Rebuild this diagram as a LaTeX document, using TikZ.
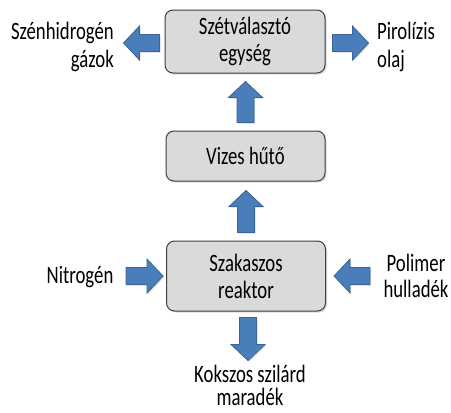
\documentclass[tikz,border=0pt]{standalone}
\usepackage{fontspec}
\setmainfont{Carlito}[FakeStretch=0.75]
\usetikzlibrary{shadows,calc}
\definecolor{boxfill}{HTML}{DADADA}
\definecolor{boxline}{HTML}{3F3F3F}
\definecolor{arrfill}{HTML}{4A7EBB}
\definecolor{arrline}{HTML}{3A6596}
\tikzset{
  unitbox/.style={draw=boxline, line width=1pt, fill=boxfill, rounded corners=8pt,
    align=center, inner sep=0pt, font=\fontsize{25}{27}\selectfont,
    drop shadow={shadow xshift=1.5pt, shadow yshift=-1.5pt, opacity=0.3}},
  lbl/.style={inner sep=0pt, font=\fontsize{25}{28}\selectfont},
  arrstyle/.style={draw=arrline, line width=0.8pt, fill=arrfill,
    drop shadow={shadow xshift=1.2pt, shadow yshift=-1.2pt, opacity=0.3}},
  pics/barrow/.style={code={
    \path[arrstyle] (0,-8.5) -- ({#1-16},-8.5) -- ({#1-16},-17) -- (#1,0)
      -- ({#1-16},17) -- ({#1-16},8.5) -- (0,8.5) -- cycle;}}
}
\begin{document}
\begin{tikzpicture}[x=1pt,y=-1pt]
\useasboundingbox (0,0) rectangle (451,413);
% boxes
\node[unitbox, minimum width=160pt, minimum height=63pt] (sep) at (245,41.5) {Szétválasztó\\egység};
\node[unitbox, minimum width=159pt, minimum height=50pt] (cool) at (245.5,156) {Vizes hűtő};
\node[unitbox, minimum width=159pt, minimum height=70pt] (reac) at (246,276) {Szakaszos\\reaktor};
% labels
\node[lbl, align=right, anchor=north east] (hc) at (114,22) {Szénhidrogén\\gázok};
\node[lbl, align=left, anchor=north west] (oil) at (377,22) {Pirolízis\\olaj};
\node[lbl] (nit) at (80,277) {Nitrogén};
\node[lbl, align=center, anchor=north, font=\fontsize{25}{26}\selectfont] (pol) at (416,254) {Polimer\\hulladék};
\node[lbl, align=center, anchor=north, font=\fontsize{25}{23}\selectfont] (coke) at (250,365) {Kokszos szilárd\\maradék};
% block arrows
\pic[rotate=90] at ($(cool.north)+(0,-8)$) {barrow=41};
\pic[rotate=90] at ($(reac.north)+(0,-8)$) {barrow=42};
\pic[rotate=-90] at ($(reac.south)+(2,6)$) {barrow=43};
\pic[rotate=180] at ($(sep.west)+(-5,1.5)$) {barrow=36};
\pic at ($(sep.east)+(7,1.5)$) {barrow=36};
\pic at ($(reac.west)+(-40,0)$) {barrow=37};
\pic[rotate=180] at ($(reac.east)+(44,0)$) {barrow=36};
\end{tikzpicture}
\end{document}
